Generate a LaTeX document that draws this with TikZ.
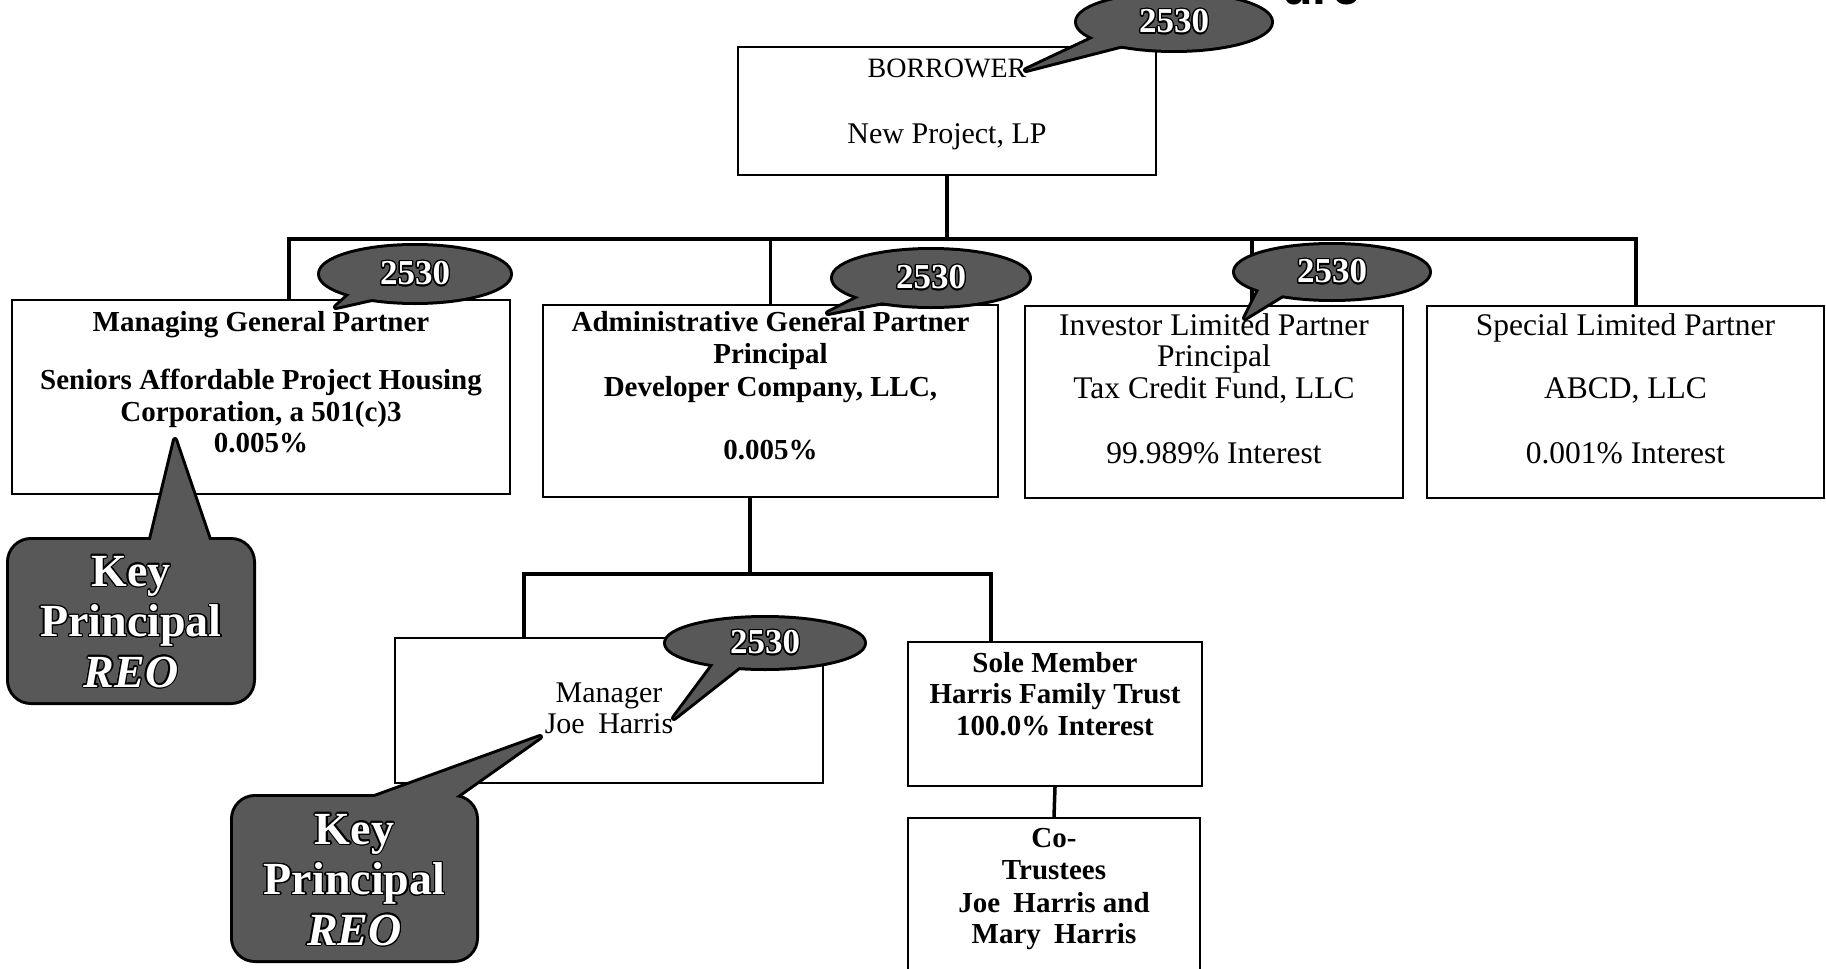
\documentclass[tikz,border=0pt]{standalone}
\usepackage{fontspec}
\setmainfont{Liberation Serif}
\newfontfamily\titlefont{Liberation Sans}
\usepackage[copies]{contour}
\contourlength{1.3pt}
\usetikzlibrary{calc}
\definecolor{calloutgray}{RGB}{88,88,88}
\newcommand\rows[1]{\begin{tabular}[t]{@{}c@{}}#1\end{tabular}}
\newcommand\wtxt[1]{\contour{black}{#1}}
\tikzset{
  box/.style={draw=black, line width=2.2pt, rectangle, inner sep=0pt},
  conn/.style={draw=black, line width=3.5pt, line cap=rect, line join=miter},
  boldtxt/.style={font=\bfseries\fontsize{29}{32.5}\selectfont, anchor=base, inner sep=0pt},
  regtxt/.style={font=\fontsize{30}{31.5}\selectfont, anchor=base, inner sep=0pt},
  bigregtxt/.style={font=\fontsize{31.5}{31.5}\selectfont, anchor=base, inner sep=0pt},
  numtxt/.style={font=\bfseries\fontsize{35}{35}\selectfont, text=white, inner sep=0pt},
  keytxt/.style={font=\bfseries\fontsize{46}{50.5}\selectfont, text=white, anchor=base, inner sep=0pt},
  calloutline/.style={draw=black, fill=calloutgray, line width=6pt, line join=round},
  calloutfill/.style={fill=calloutgray},
}
\newcommand\numbubble[7]{%
  \coordinate (#7) at (#1);
  \draw[calloutline] (#6) -- ($(#7)+(#4:0.85*#2 and 0.85*#3)$) -- ($(#7)+(#5:0.85*#2 and 0.85*#3)$) -- cycle;
  \draw[calloutline] (#7) ellipse [x radius=#2, y radius=#3];
  \fill[calloutfill] (#6) -- ($(#7)+(#4:0.85*#2 and 0.85*#3)$) -- ($(#7)+(#5:0.85*#2 and 0.85*#3)$) -- cycle;
  \fill[calloutfill] (#7) ellipse [x radius=#2, y radius=#3];
  \node[numtxt] (#7t) at (#7) {\contour{black}{2530}};
}
\begin{document}
\begin{tikzpicture}[x=1pt,y=-1pt]
\useasboundingbox (0,0) rectangle (1826,969);
\fill[white] (0,0) rectangle (1826,969);

% title fragment (cut off at the top edge, as in the reference)
\node[anchor=base east, font=\titlefont\bfseries\fontsize{50}{50}\selectfont, inner sep=0pt] (title) at (1360,5) {ure};

% boxes
\node[box, minimum width=418pt, minimum height=128pt] (borrower) at (947,111) {};
\node[box, minimum width=498pt, minimum height=194pt] (mgp) at (261,397) {};
\node[box, minimum width=455pt, minimum height=192pt] (adgp) at (770.5,401) {};
\node[box, minimum width=378pt, minimum height=192pt] (ilp) at (1214,402) {};
\node[box, minimum width=397pt, minimum height=192pt] (slp) at (1625.5,402) {};
\node[box, minimum width=428pt, minimum height=145pt] (mgr) at (609,710.5) {};
\node[box, minimum width=294pt, minimum height=144pt] (sole) at (1055,714) {};
\node[box, minimum width=292pt, minimum height=180pt] (cot) at (1054,908) {};

% connectors
\coordinate (busL) at (289,239);
\coordinate (busR) at (1636,239);
\coordinate (busI) at (1252,239);
\draw[conn] (borrower.south) -- (borrower.south |- busL);
\draw[conn] (mgp.north -| busL) -- (busL) -- (busR) -- (slp.north -| busR);
\draw[conn] (adgp.north) -- (adgp.north |- busL);
\draw[conn] (busI) -- (ilp.north -| busI);
\coordinate (subM) at (750,574);
\coordinate (subL) at (524,574);
\coordinate (subR) at (991,574);
\draw[conn] (adgp.south -| subM) -- (subM);
\draw[conn] (mgr.north -| subL) -- (subL) -- (subR) -- (sole.north -| subR);
\draw[conn] (sole.south) -- (cot.north);

% texts
\node[regtxt] (borrowerT) at (947,77) {\rows{{\fontsize{28}{31.5}\selectfont BORROWER}\\[34.5pt] New Project, LP}};
\node[boldtxt] (mgpT) at (261,331) {\rows{Managing General Partner\\[25.5pt] Seniors Affordable Project Housing\\ Corporation, a 501(c)3\\[-1.5pt] 0.005\%}};
\node[boldtxt] (adgpT) at (770.5,331) {\rows{Administrative General Partner\\ Principal\\ Developer Company, LLC,\\[30.5pt] 0.005\%}};
\node[bigregtxt] (ilpT) at (1214,335) {\rows{Investor Limited Partner\\ Principal\\ Tax Credit Fund, LLC\\[33.5pt] 99.989\% Interest}};
\node[bigregtxt] (slpT) at (1625.5,335) {\rows{Special Limited Partner\\[31.5pt] ABCD, LLC\\[33.5pt] 0.001\% Interest}};
\node[regtxt] (mgrT) at (609,702) {\rows{Manager\\ Joe\hspace{6pt} Harris}};
\node[boldtxt] (soleT) at (1055,672) {\rows{Sole Member\\[-1pt] Harris Family Trust\\[-1pt] 100.0\% Interest}};
\node[boldtxt] (cotT) at (1054,847) {\rows{Co-\\ Trustees\\ Joe\hspace{6pt} Harris and\\[-1pt] Mary\hspace{6pt} Harris}};

% 2530 bubbles
\numbubble{1174,22}{97}{28}{150}{120}{1026,70}{b0}
\numbubble{415,274}{95}{28}{138}{112}{336,307}{b1}
\numbubble{931,278}{98}{28}{140}{115}{828,313}{b2}
\numbubble{1332,272}{97}{27}{148}{122}{1245,318}{b3}
\numbubble{765,643}{99}{25}{125}{105}{674,718}{b4}

% key principal callouts
\coordinate (k1tip) at (175,440);
\draw[calloutline] (146,560) -- (k1tip) -- (216,560) -- cycle;
\draw[calloutline, rounded corners=22pt] (9,540) rectangle (253,702);
\fill[calloutfill] (146,560) -- (k1tip) -- (216,560) -- cycle;
\fill[calloutfill, rounded corners=22pt] (9,540) rectangle (253,702);
\node[keytxt] (key1) at (131,586) {\rows{\wtxt{Key}\\ \wtxt{Principal}\\ \wtxt{\textit{REO}}}};

\coordinate (k2tip) at (540,737);
\draw[calloutline] (325,815) -- (k2tip) -- (430,815) -- cycle;
\draw[calloutline, rounded corners=22pt] (233,797) rectangle (476,960);
\fill[calloutfill] (325,815) -- (k2tip) -- (430,815) -- cycle;
\fill[calloutfill, rounded corners=22pt] (233,797) rectangle (476,960);
\node[keytxt] (key2) at (354.5,844) {\rows{\wtxt{Key}\\ \wtxt{Principal}\\ \wtxt{\textit{REO}}}};
\end{tikzpicture}
\end{document}
